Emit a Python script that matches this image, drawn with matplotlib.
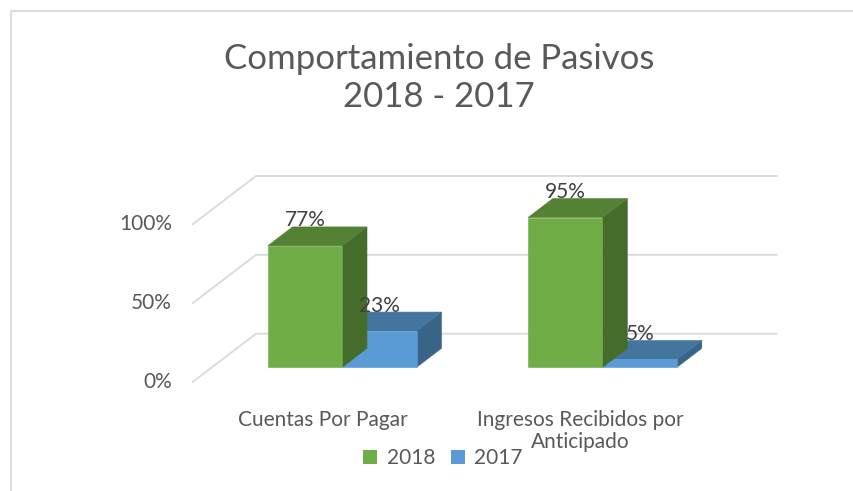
import matplotlib
matplotlib.use("Agg")
import matplotlib.pyplot as plt
from matplotlib.lines import Line2D
from matplotlib.patches import Patch, Polygon
from matplotlib.transforms import ScaledTranslation

plt.rcParams['font.family'] = ['Lato', 'DejaVu Sans']

title = "Comportamiento de Pasivos\n2018 - 2017"
categories = ["Cuentas Por Pagar", "Ingresos Recibidos por\nAnticipado"]
series_names = ["2018", "2017"]
values_2018 = [77, 95]
values_2017 = [23, 5]
y_ticks = [0, 50, 100]
y_labels = ["0%", "50%", "100%"]

W, H = 854, 491
fig = plt.figure(figsize=(W / 100, H / 100), dpi=100, facecolor="white")
L, R, T, B = 192.7, 713.4, 224.3, 382.0
ax = fig.add_axes([L / W, 1 - B / H, (R - L) / W, (B - T) / H])
ax.set_xlim(-0.5, 1.5)
ax.set_ylim(0, 100)
ax.patch.set_alpha(0)
for s in ax.spines.values():
    s.set_visible(False)

# chart frame (pixels)
fc = "#DEDEDE"
fig.add_artist(Line2D([11 / W, 11 / W, 1], [0, 1 - 11 / H, 1 - 11 / H],
                      transform=fig.transFigure, color=fc, lw=1.5))

# oblique projection of the depth axis
DX = 63.3 / ((R - L) / 2)     # wall depth in x units
DY = 48.3 / ((B - T) / 100)   # wall depth in y units


def proj(x, y, d):
    return x + d * DX, y + d * DY


GRID = "#D9D9D9"
for t in y_ticks:
    p0 = proj(-0.5, t, 0)
    p1 = proj(-0.5, t, 1)
    p2 = proj(1.5, t, 1)
    ax.plot([p0[0], p1[0], p2[0]], [p0[1], p1[1], p2[1]], color=GRID, lw=1.3,
            clip_on=False, zorder=1, solid_joinstyle="miter")

D0, D1 = 0.304, 0.697
BW = 0.286


def bar3d(x0, val, front, top, side, z):
    x1 = x0 + BW
    a = [proj(x0, 0, D0), proj(x1, 0, D0), proj(x1, val, D0), proj(x0, val, D0)]
    t = [proj(x0, val, D0), proj(x1, val, D0), proj(x1, val, D1), proj(x0, val, D1)]
    s = [proj(x1, 0, D0), proj(x1, 0, D1), proj(x1, val, D1), proj(x1, val, D0)]
    ax.add_patch(Polygon(s, closed=True, fc=side, ec=side, lw=0.4, clip_on=False, zorder=z))
    ax.add_patch(Polygon(t, closed=True, fc=top, ec=top, lw=0.4, clip_on=False, zorder=z))
    ax.add_patch(Polygon(a, closed=True, fc=front, ec=front, lw=0.4, clip_on=False, zorder=z + 0.1))
    cx, cy = proj(x0 + BW / 2, val, D0)
    return cx, cy


GREEN = ("#70AD47", "#558135", "#466C2B")
BLUE = ("#5B9BD5", "#44759F", "#396488")
labels = []
for i, (a, b) in enumerate(zip(values_2018, values_2017)):
    labels.append((*bar3d(i - BW, b if False else a, *GREEN, z=3), a))
    labels.append((*bar3d(i, b, *BLUE, z=2), b))
for cx, cy, v in labels:
    ax.annotate(f"{v}%", (cx, cy), xytext=(0, 25.5 * 0.72), textcoords="offset points",
                ha="center", va="center", fontsize=15, color="#404040", zorder=6,
                annotation_clip=False)

ax.set_yticks(y_ticks, y_labels)
ax.set_xticks(range(len(categories)), categories)
ax.tick_params(axis="both", length=0, colors="#595959", labelsize=15)
ax.tick_params(axis="y", pad=15)
ax.tick_params(axis="x", pad=20, labelsize=15)
for lab in ax.get_yticklabels():
    lab.set_transform(lab.get_transform() + ScaledTranslation(0, 2 / 100, fig.dpi_scale_trans))
lab = ax.get_xticklabels()[1]
lab.set_transform(lab.get_transform() + ScaledTranslation(-3 / 100, 0, fig.dpi_scale_trans))
for lab in ax.get_xticklabels():
    lab.set_linespacing(1.15)

fig.text(439 / W, 1 - 78 / H, title, ha="center", va="center", fontsize=25,
         color="#595959", linespacing=1.25)

handles = [Patch(fc=GREEN[0], ec="none"), Patch(fc=BLUE[0], ec="none")]
leg = fig.legend(handles, series_names, loc="center", bbox_to_anchor=(443 / W, 1 - 458 / H),
                 ncol=2, frameon=False, fontsize=15, labelcolor="#595959",
                 handlelength=0.68, handleheight=0.68, handletextpad=0.45,
                 columnspacing=0.75, borderpad=0, borderaxespad=0)

fig.savefig("out.png", dpi=100)
